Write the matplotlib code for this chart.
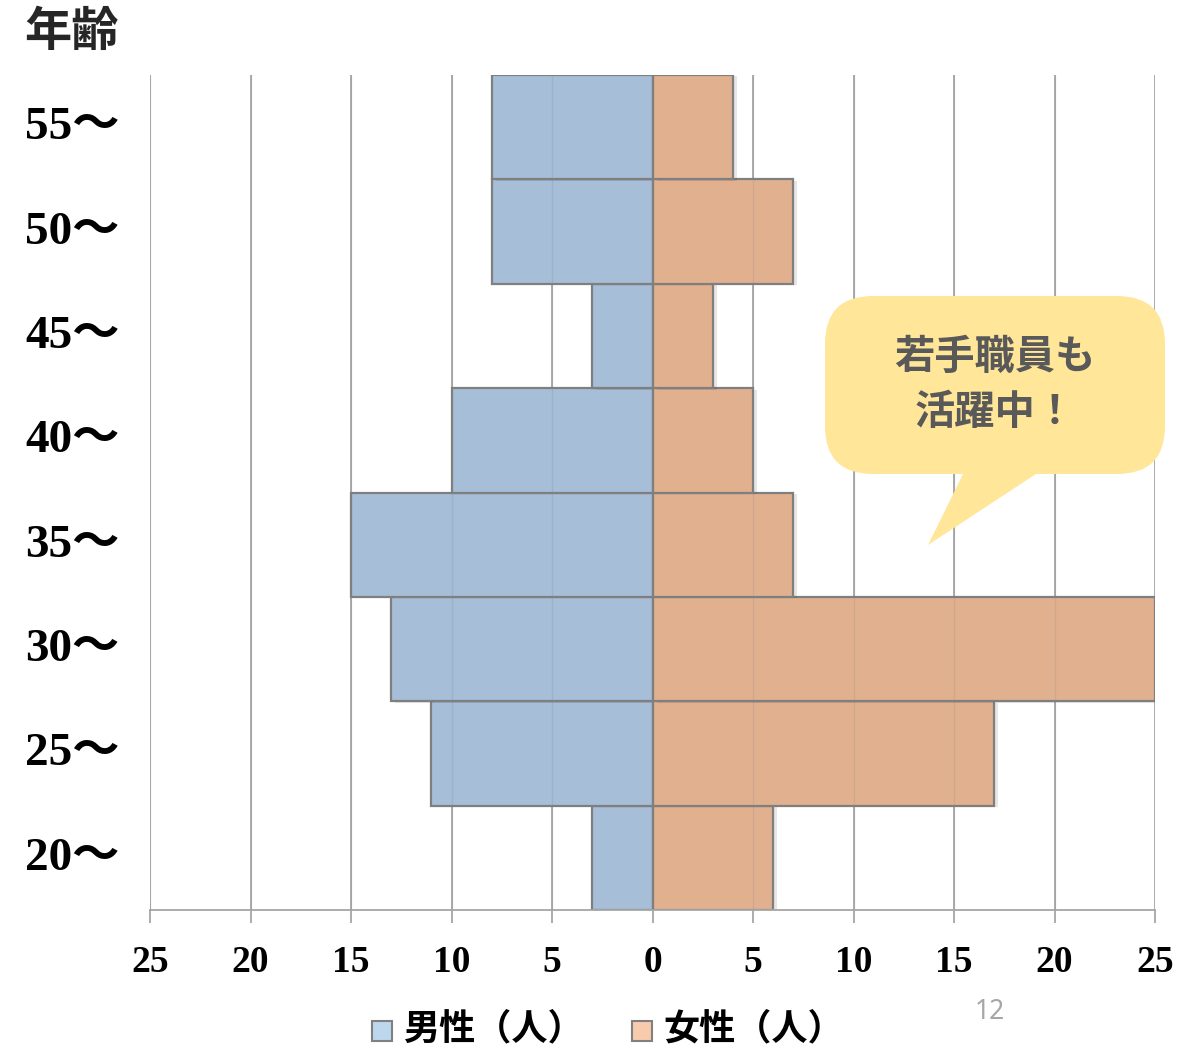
import matplotlib.pyplot as plt
import matplotlib.patheffects as pe
import matplotlib.transforms as mtransforms
from matplotlib.patches import FancyBboxPatch, Polygon, Rectangle
import numpy as np

####### DATA #######

age_groups = ['20〜', '25〜', '30〜', '35〜', '40〜', '45〜', '50〜', '55〜']
male = [3, 11, 13, 15, 10, 3, 8, 8]
female = [6, 17, 25, 7, 5, 3, 7, 4]
x_ticks = [-25, -20, -15, -10, -5, 0, 5, 10, 15, 20, 25]
legend_labels = ['男性（人）', '女性（人）']
callout_text = '若手職員も\n活躍中！'
page_no = '12'

####### STYLE #######

W, H = 1178, 1051
serif = ['Liberation Serif', 'Noto Sans CJK JP']
cjk = ['Noto Sans CJK JP', 'DejaVu Sans']
c_male = '#A6BED8'
c_female = '#E1B18F'
c_edge = '#7F7F7F'
c_grid = '#A6A6A6'

fig = plt.figure(figsize=(W / 100, H / 100), dpi=100)
ax = fig.add_axes([150 / W, (H - 910) / H, (1155 - 150) / W, (910 - 75) / H])

y = np.arange(len(age_groups))
shadow = [pe.SimplePatchShadow(offset=(3, -1), alpha=0.12), pe.Normal()]

ax.vlines(x_ticks, -0.5, len(age_groups) - 0.5, color=c_grid, lw=1.3, zorder=0)
bm = ax.barh(y, [-v for v in male], height=1.0, color=c_male, edgecolor=c_edge, lw=1.6, zorder=2)
bf = ax.barh(y, female, height=1.0, color=c_female, edgecolor=c_edge, lw=1.6, zorder=2)
for b in list(bm) + list(bf):
    b.set_path_effects(shadow)
# faint grid seen through the bars
ax.vlines(x_ticks, -0.5, len(age_groups) - 0.5, color='#7F7F7F', lw=1.0, alpha=0.18, zorder=3)

ax.set_xlim(-25, 25)
ax.set_ylim(-0.5, len(age_groups) - 0.5)
ax.set_xticks(x_ticks)
ax.set_xticklabels([str(abs(t)) for t in x_ticks], family=serif, fontsize=27, fontweight='bold')
ax.set_yticks(y)
ax.set_yticklabels(age_groups, family=serif, fontsize=34, fontweight='bold')
ax.tick_params(axis='y', length=0, pad=22)
ax.tick_params(axis='x', length=9, width=1.3, color=c_grid, pad=16)
up = mtransforms.ScaledTranslation(0, 4 / 100, fig.dpi_scale_trans)
for lab in ax.get_yticklabels():
    lab.set_transform(lab.get_transform() + up)
for s in ['top', 'right', 'left']:
    ax.spines[s].set_visible(False)
ax.spines['bottom'].set_color(c_grid)
ax.spines['bottom'].set_linewidth(1.3)

####### OVERLAY (pixel coords) #######

ov = fig.add_axes([0, 0, 1, 1], zorder=5)
ov.set_xlim(0, W)
ov.set_ylim(H, 0)
ov.axis('off')

ov.text(24, 32, '年齢', family=cjk, fontsize=34, fontweight='bold', color='#262626', va='center', ha='left')

# callout bubble
bubble = FancyBboxPatch((825, 296), 340, 178, boxstyle='round,pad=0,rounding_size=48',
                        fc='#FFE699', ec='none')
ov.add_patch(bubble)
ov.add_patch(Polygon([[965, 470], [1042, 470], [928, 545]], closed=True, fc='#FFE699', ec='none'))
ov.text(995, 385, callout_text, family=cjk, fontsize=29, fontweight='bold', color='#595959',
        ha='center', va='center', linespacing=1.45)

# legend
for xs, c, lab in [(372, '#BDD7EE', legend_labels[0]), (632, '#F8CBAD', legend_labels[1])]:
    ov.add_patch(Rectangle((xs, 1021), 20, 20, fc=c, ec='#808080', lw=1.5))
    ov.text(xs + 31, 1029, lab, family=cjk, fontsize=26, fontweight='bold', color='#000000',
            ha='left', va='center')

ov.text(990, 1012, page_no, family=['Noto Sans', 'DejaVu Sans'], fontsize=19, color='#A6A6A6',
        ha='center', va='center')

fig.savefig('out.png', dpi=100)
